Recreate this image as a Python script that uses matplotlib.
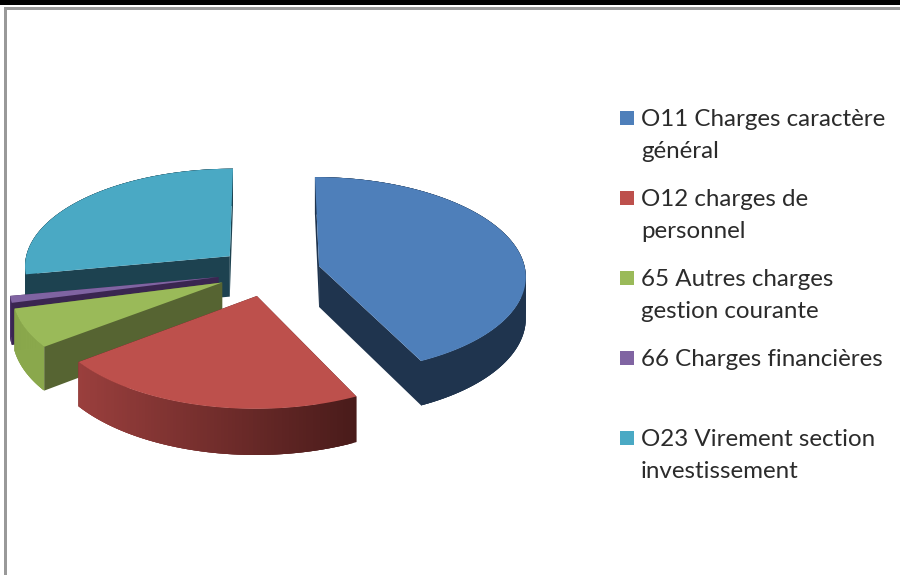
"""Exploded 3D-style pie of budget charges, drawn by hand on a pixel axes."""

import numpy as np
import matplotlib
matplotlib.use('Agg')
import matplotlib.pyplot as plt
from matplotlib.patches import Rectangle, Polygon

#########################################################################################
# Data

labels = ['O11 Charges caractère\ngénéral',
          'O12 charges de\npersonnel',
          '65 Autres charges\ngestion courante',
          '66 Charges financières',
          'O23 Virement section\ninvestissement']
values = [42.8, 21.8, 6.3, 1.1, 28.0]

top_cols = ['#4e7fba', '#bd504c', '#9aba59', '#8064a2', '#4aa9c4']
wall_cols = ['#1f344e', '#4c1c1b', '#566432', '#3a2650', '#1d4250']
# Rim shade at the left and right end of each slice
rim_left = ['#1f344e', '#9a3f3d', '#8aa84c', '#4a3266', '#1d4250']
rim_right = ['#1f344e', '#491b1a', '#8aa84c', '#4a3266', '#1d4250']

# Projection settings, in pixels
CX, CY = 269, 271.6
RX, RY = 206.5, 98
PERSP = 0.09
EXPLODE = 0.25
DEPTH = 41

#########################################################################################

def project(u, v):
    """Project pie-plane coordinates to pixels, front of the pie drawn larger."""

    s = 1 / (1 - PERSP * v)

    return CX + RX * u * s, CY + RY * v * s, s


def draw_slice(ax, start, end, ind):
    """Draw one slice: walls first, then the rim, then the top face."""

    # Offset of the slice along its bisector
    mid = (start + end) / 2
    off_u, off_v = EXPLODE * np.sin(mid), -EXPLODE * np.cos(mid)

    ax_, ay_, as_ = project(off_u, off_v)
    apex = (ax_, ay_)

    thetas = np.linspace(start, end, 90)
    xs, ys, ss = project(off_u + np.sin(thetas), off_v - np.cos(thetas))
    drops = DEPTH * ss

    # Radial walls
    for j in [0, -1]:
        ax.add_patch(Polygon([apex, (xs[j], ys[j]), (xs[j], ys[j] + drops[j]),
                              (apex[0], apex[1] + DEPTH * as_)],
                             fc=wall_cols[ind], ec='none'))

    # Outer rim, shaded along x. Each piece runs over the next one to hide the seams.
    c_l = np.array(matplotlib.colors.to_rgb(rim_left[ind]))
    c_r = np.array(matplotlib.colors.to_rgb(rim_right[ind]))
    x_min, x_max = xs.min(), xs.max()
    for j in range(len(thetas) - 1):
        k = min(j + 3, len(thetas) - 1)
        frac = ((xs[j] + xs[j + 1]) / 2 - x_min) / (x_max - x_min)
        col = c_l + (c_r - c_l) * frac
        ax.add_patch(Polygon([(xs[n], ys[n]) for n in range(j, k + 1)] +
                             [(xs[n], ys[n] + drops[n]) for n in range(k, j - 1, -1)],
                             fc=col, ec='none'))

    # Top face
    ax.add_patch(Polygon([apex] + list(zip(xs, ys)), fc=top_cols[ind], ec='none'))

#########################################################################################

plt.rcParams['font.family'] = ['Lato', 'DejaVu Sans']

f = plt.figure(figsize=(9, 5.75), dpi=100, facecolor='white')
ax = f.add_axes([0, 0, 1, 1])
ax.set_xlim(0, 900)
ax.set_ylim(575, 0)
ax.axis('off')

# Window frame
ax.add_patch(Rectangle((0, 0), 900, 5, fc='black', ec='none'))
ax.add_patch(Rectangle((4, 7), 896, 2.5, fc='#999999', ec='none'))
ax.add_patch(Rectangle((4, 7), 3, 568, fc='#999999', ec='none'))

# Slice angles, clockwise from the back
edges = np.concatenate([[0], np.cumsum(values)]) / np.sum(values) * 2 * np.pi

# Back slices first, so the front ones sit over their walls
for ind in [4, 3, 2, 1, 0]:
    draw_slice(ax, edges[ind], edges[ind + 1], ind)

# Legend
for ind, label in enumerate(labels):
    y_mid = 117.5 + 80 * ind
    ax.add_patch(Rectangle((620, y_mid - 7), 14, 14, fc=top_cols[ind], ec='none'))
    for k, line in enumerate(label.split('\n')):
        ax.text(641, y_mid + 8.5 + 32 * k, line, fontsize=17.35, color='#2b2b2b', va='baseline')

plt.savefig('out.png', dpi=100)
